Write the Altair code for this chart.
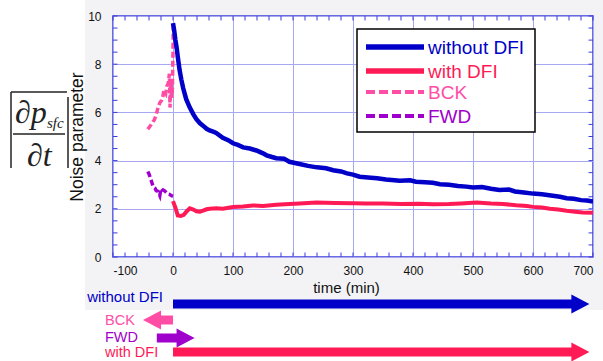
import altair as alt
import pandas as pd

# ---------------- data ----------------
t_without = [0, 2, 4, 6, 8, 11, 14, 17, 22, 28, 34, 39, 45, 50, 56, 61, 67, 72, 83, 92, 100, 108, 117, 128, 139, 150, 156,
             165, 172, 185, 194, 211, 225, 240, 255, 267, 280, 290, 300, 311, 325, 340, 355, 378, 395, 405, 420, 433,
             445, 460, 475, 489, 500, 515, 530, 544, 560, 570, 585, 600, 615, 630, 645, 656, 668, 680, 690, 700]
v_without = [9.7, 9.4, 9.0, 8.7, 8.3, 7.75, 7.35, 7.0, 6.55, 6.2, 5.92, 5.72, 5.55, 5.45, 5.32, 5.25, 5.2, 5.15, 4.95, 4.85,
             4.72, 4.65, 4.55, 4.5, 4.42, 4.3, 4.22, 4.15, 4.1, 4.08, 3.95, 3.86, 3.78, 3.72, 3.68, 3.6, 3.55, 3.47, 3.42,
             3.33, 3.3, 3.27, 3.22, 3.16, 3.18, 3.12, 3.1, 3.08, 3.02, 3.0, 2.95, 2.92, 2.88, 2.9, 2.83, 2.78, 2.8, 2.72,
             2.68, 2.63, 2.6, 2.55, 2.5, 2.44, 2.42, 2.36, 2.34, 2.3]
t_with = [0, 4, 8, 13, 18, 23, 28, 34, 39, 45, 50, 56, 61, 72, 83, 100, 117, 133, 150, 172, 194, 211, 239, 270, 300,
          322, 350, 380, 410, 433, 460, 480, 506, 530, 550, 572, 590, 600, 615, 628, 642, 656, 670, 683, 700]
v_with = [2.32, 2.05, 1.72, 1.7, 1.75, 1.9, 2.02, 1.97, 1.9, 1.88, 1.92, 1.98, 2.0, 2.02, 2.0, 2.07, 2.1, 2.14, 2.12,
          2.17, 2.2, 2.22, 2.26, 2.24, 2.23, 2.22, 2.22, 2.2, 2.21, 2.19, 2.2, 2.22, 2.26, 2.22, 2.2, 2.15, 2.12, 2.08,
          2.05, 2.0, 1.97, 1.92, 1.88, 1.85, 1.84]
t_bck = [-42, -39, -35, -31, -28, -25, -22, -19, -17, -15, -12, -10, -8, -6, -5, -4, -3, -2, -1, 0, 0.5]
v_bck = [5.3, 5.4, 5.55, 5.7, 5.9, 6.2, 6.4, 6.5, 6.65, 6.95, 6.8, 7.1, 7.2, 7.6, 6.2, 7.0, 7.2, 6.6, 7.0, 8.5, 9.6]
t_fwd = [-42, -40, -38, -36, -33, -30, -28, -25, -22, -20, -18, -15, -12, -9, -6, -3, 0]
v_fwd = [3.55, 3.45, 3.3, 3.15, 2.9, 2.85, 2.75, 2.72, 2.55, 2.85, 2.8, 2.76, 2.7, 2.62, 2.6, 2.55, 2.52]

series_names = ["without DFI", "with DFI", "BCK", "FWD"]
series_colors = ["#0000c8", "#ff1a55", "#ff4da6", "#a000cc"]

x_ticks = [-100, 0, 100, 200, 300, 400, 500, 600, 700]
y_ticks = [0, 2, 4, 6, 8, 10]
x_minor = list(range(-100, 701, 20))
y_minor = [i * 0.5 for i in range(21)]

arrow_names = ["without DFI", "BCK", "FWD", "with DFI"]
arrow_start = [0, 0, -27, 0]
arrow_end = [694, -50, 36, 694]
arrow_colors = ["#0000c8", "#ff4da6", "#a000cc", "#ff1a55"]

# ---------------- layout (pixels, relative to plot area) ----------------
W, H = 480, 241
FRAME = "#3c3cdc"
arrow_row_y = [288, 304, 322, 336]
arrow_label_y = [281, 305, 322, 337]
legend_y = [31, 55, 76, 100]

xs = alt.Scale(domain=[-100, 700], nice=False, zero=False)
ys = alt.Scale(domain=[0, 10], nice=False, zero=False)
xaxis = alt.Axis(values=x_ticks, title="time (min)", titleX=233, titleY=30, titleBaseline="middle",
                 titleAlign="center", titleFontSize=15, titleFontWeight="normal", labelPadding=8,
                 labelExpr="'' + datum.value")
yaxis = alt.Axis(values=y_ticks, title=None, labelPadding=12)

one = alt.Data(values=[{}])
layers = []

# background strips (white outside shaded panel)
layers.append(alt.Chart(one).mark_rect(color="white").encode(
    x=alt.value(-113), x2=alt.value(-28), y=alt.value(-16), y2=alt.value(345)))
layers.append(alt.Chart(one).mark_rect(color="white").encode(
    x=alt.value(-113), x2=alt.value(490), y=alt.value(294), y2=alt.value(345)))

# y-axis title (as text so it sits above the white strip)
layers.append(alt.Chart(one).mark_text(
    text="Noise parameter", font="Liberation Sans", fontSize=17.5, color="#111", angle=270,
    align="center", baseline="middle").encode(x=alt.value(-35), y=alt.value(121)))

# minor ticks inside frame
xm = pd.DataFrame({"t": x_minor})
ym = pd.DataFrame({"v": y_minor})
for y0, y1 in [(H, H - 4.5), (0, 4.5)]:
    layers.append(alt.Chart(xm).mark_rule(color=FRAME, strokeWidth=1).encode(
        x=alt.X("t:Q", scale=xs, axis=xaxis), y=alt.value(y0), y2=alt.value(y1)))
for x0, x1 in [(0, 4.5), (W, W - 4.5)]:
    layers.append(alt.Chart(ym).mark_rule(color=FRAME, strokeWidth=1).encode(
        y=alt.Y("v:Q", scale=ys, axis=yaxis), x=alt.value(x0), x2=alt.value(x1)))

# series lines
def series_layer(t, v, color, width, dash=None):
    df = pd.DataFrame({"t": t, "v": v})
    kw = dict(color=color, strokeWidth=width, clip=True, strokeCap="butt")
    if dash:
        kw["strokeDash"] = dash
    return alt.Chart(df).mark_line(**kw).encode(
        x=alt.X("t:Q", scale=xs, axis=xaxis), y=alt.Y("v:Q", scale=ys, axis=yaxis))

layers.append(series_layer(t_bck, v_bck, series_colors[2], 3.5, [6, 3]))
layers.append(series_layer(t_fwd, v_fwd, series_colors[3], 3.5, [6, 3]))
layers.append(series_layer(t_with, v_with, series_colors[1], 4))
layers.append(series_layer(t_without, v_without, series_colors[0], 4.5))

# legend box
layers.append(alt.Chart(one).mark_rect(fill="white", stroke="black", strokeWidth=1.5).encode(
    x=alt.value(244), x2=alt.value(422), y=alt.value(13), y2=alt.value(116)))
for i, (nm, col) in enumerate(zip(series_names, series_colors)):
    kw = dict(color=col, strokeWidth=5.5 if i < 2 else 4, strokeCap="butt")
    if i >= 2:
        kw["strokeDash"] = [9, 4]
    layers.append(alt.Chart(one).mark_rule(**kw).encode(
        x=alt.value(253), x2=alt.value(311), y=alt.value(legend_y[i])))
    layers.append(alt.Chart(one).mark_text(
        text=nm, color=col, fontSize=19, font="Liberation Sans", align="left", baseline="middle").encode(
        x=alt.value(315), y=alt.value(legend_y[i] + 1)))

# arrows under the axis
adf = pd.DataFrame({"name": arrow_names, "start": arrow_start, "end": arrow_end})
right_head = "M0,0L-1.9,-1L-1.9,1Z"
left_head = "M0,0L1.9,-1L1.9,1Z"
for i, nm in enumerate(arrow_names):
    base = alt.Chart(adf).transform_filter(alt.datum.name == nm).transform_calculate(
        shaft_end="datum.end - (datum.end > datum.start ? 28 : -28)")
    col = arrow_colors[i]
    layers.append(base.mark_rule(color=col, strokeWidth=9, strokeCap="butt").encode(
        x=alt.X("start:Q", scale=xs, axis=xaxis), x2="shaft_end:Q", y=alt.value(arrow_row_y[i])))
    shape = right_head if arrow_end[i] > arrow_start[i] else left_head
    layers.append(base.mark_point(shape=shape, size=361, filled=True, fill=col, opacity=1, strokeWidth=0).encode(
        x=alt.X("end:Q", scale=xs, axis=xaxis), y=alt.value(arrow_row_y[i])))
    if i == 0:
        layers.append(base.mark_text(color=col, fontSize=15, font="Liberation Sans", align="right",
                                     baseline="middle", dx=-10).encode(
            x=alt.X("start:Q", scale=xs, axis=xaxis), y=alt.value(arrow_label_y[i]), text="name:N"))
    else:
        layers.append(base.mark_text(color=col, fontSize=14.5, font="Liberation Sans", align="left",
                                     baseline="middle").encode(
            x=alt.value(-8), y=alt.value(arrow_label_y[i]), text="name:N"))

# formula |d p_sfc / d t| with overline
SERIF = "Liberation Serif"
def ftext(txt, x, y, size, align="left"):
    return alt.Chart(one).mark_text(text=txt, font=SERIF, fontStyle="italic", fontSize=size, color="#222",
                                    align=align, baseline="alphabetic").encode(x=alt.value(x), y=alt.value(y))
def fline(x0, y0, x1, y1, w=1.5):
    return alt.Chart(one).mark_rule(color="#222", strokeWidth=w).encode(
        x=alt.value(x0), y=alt.value(y0), x2=alt.value(x1), y2=alt.value(y1))

layers.append(ftext("\u2202p", -98, 107, 32))
layers.append(ftext("sfc", -66, 112, 15))
layers.append(ftext("\u2202t", -86, 150, 32))
layers.append(fline(-100, 118, -48, 118))
layers.append(fline(-102, 76, -102, 152))
layers.append(fline(-102, 76, -46, 76))
layers.append(fline(-45, 81, -45, 152))

chart = alt.layer(*layers).properties(
    width=W, height=H,
    padding={"left": 113, "top": 16, "right": 10, "bottom": 104},
    autosize=alt.AutoSizeParams(type="none"),
).configure(background="#f3f3f6").configure_view(
    stroke=FRAME, strokeWidth=1.5, fill="white"
).configure_axis(
    grid=True, gridColor="#a8a8f0", gridWidth=1, domain=False, ticks=False, tickSize=0,
    labelFont="Liberation Sans", labelFontSize=12, labelColor="#111",
    titleFont="Liberation Sans", titleColor="#111",
)

chart.save("out.html", embed_options={"renderer": "svg", "actions": False})
